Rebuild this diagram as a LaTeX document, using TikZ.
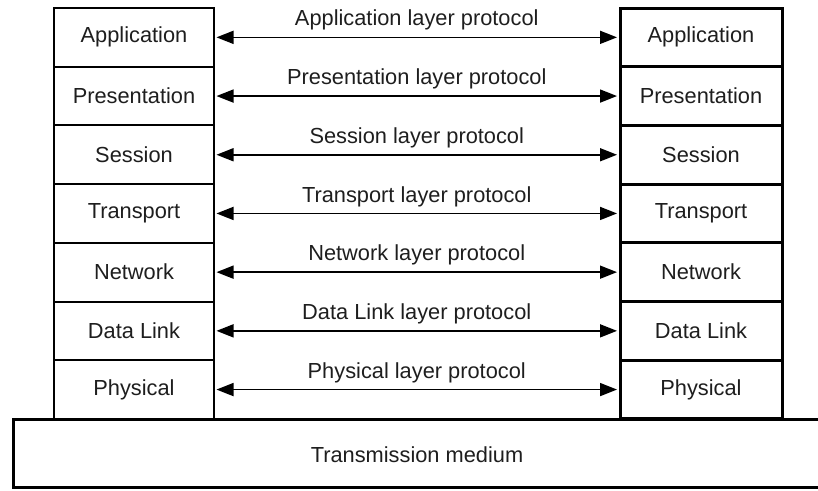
\documentclass[tikz,border=0pt]{standalone}
\usepackage{fontspec}
\setmainfont{Liberation Sans}
\usetikzlibrary{arrows.meta}
\definecolor{ink}{HTML}{1E1E1E}
\begin{document}
\begin{tikzpicture}[x=1pt,y=-1pt,
  font=\fontsize{21.8pt}{26pt}\selectfont,
  layerbox/.style={draw=black, fill=white, minimum width=#1, minimum height=58.7pt,
                   inner sep=0pt, text=ink},
  proto/.style={{Triangle[length=17pt,width=13pt]}-{Triangle[length=17pt,width=13pt]},
                line width=1.7pt, black, shorten <=1.5pt, shorten >=1.5pt},
  protolabel/.style={text=ink, inner sep=0pt, anchor=south, yshift=6pt}]
\useasboundingbox (0,0) rectangle (818,490);
% shared physical medium under both stacks
\draw[line width=3pt, fill=white] (13,419.5) rectangle (835,487);
\node[text=ink] (medium) at (417,455) {Transmission medium};
% the two protocol stacks
\foreach \lay [count=\i] in {Application,Presentation,Session,Transport,Network,Data Link,Physical}{
  \node[layerbox=160pt, line width=2pt] (L\i) at (134, 8+58.7*\i-29.35) {\lay};
  \node[layerbox=162pt, line width=3pt] (R\i) at (701, 8+58.7*\i-29.35) {\lay};
}
% peer-to-peer protocol arrows
\foreach \lay [count=\i] in {Application,Presentation,Session,Transport,Network,Data Link,Physical}{
  \draw[proto] (L\i.east) -- (R\i.west)
    node[protolabel, midway] {\lay{} layer protocol};
}
\end{tikzpicture}
\end{document}
